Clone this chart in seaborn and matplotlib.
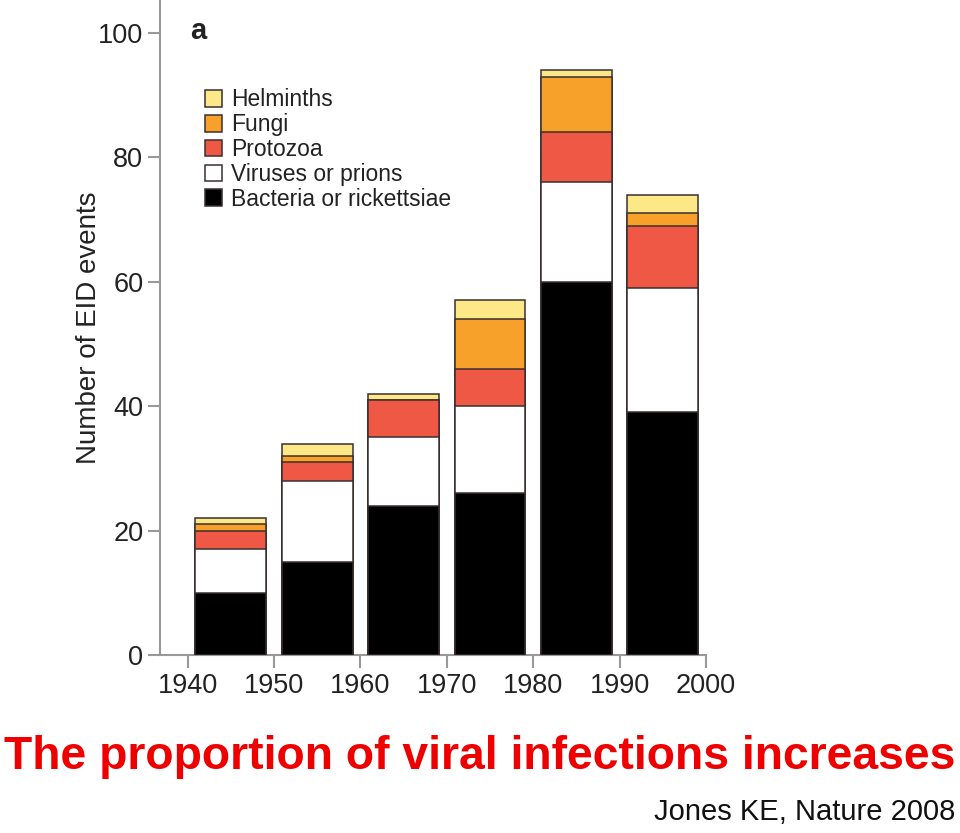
import matplotlib
matplotlib.use("Agg")
import matplotlib.pyplot as plt
import matplotlib.patches as mpatches
import seaborn as sns
import pandas as pd
import numpy as np

# ---- data ----
decade_start = [1940, 1950, 1960, 1970, 1980, 1990]
tick_years = [1940, 1950, 1960, 1970, 1980, 1990, 2000]
categories = ["Bacteria or rickettsiae", "Viruses or prions", "Protozoa", "Fungi", "Helminths"]
bacteria = [10, 15, 24, 26, 60, 39]
viruses = [7, 13, 11, 14, 16, 20]
protozoa = [3, 3, 6, 6, 8, 10]
fungi = [1, 1, 0, 8, 9, 2]
helminths = [1, 2, 1, 3, 1, 3]
colors = ["#000000", "#FFFFFF", "#EE5845", "#F8A12A", "#FCE886"]
yticks = [0, 20, 40, 60, 80, 100]

sns.set_theme(style="white")
plt.rcParams['font.family'] = ['Liberation Sans', 'DejaVu Sans']

fig = plt.figure(figsize=(9.6, 8.33), dpi=100)
ax = fig.add_axes([160/960, (833-655)/833, (706-160)/960, 655/833])

series = [bacteria, viruses, protozoa, fungi, helminths]
centers = [d + 5 for d in decade_start]
cum = np.cumsum(np.array(series), axis=0)

# draw from top layer (full stack) down so each lower layer overlays
for i in range(len(series) - 1, -1, -1):
    df = pd.DataFrame({"decade": centers, "value": cum[i]})
    sns.barplot(data=df, x="decade", y="value", native_scale=True, width=0.82,
                color=colors[i], saturation=1, edgecolor="#3a3030", linewidth=1.1,
                ax=ax, zorder=2 + (len(series) - i))

ax.set_xlim(1936.8, 2000)
ax.set_ylim(0, 105.3)
ax.set_xticks(tick_years)
ax.set_xticklabels([str(t) for t in tick_years])
ax.set_yticks(yticks)
ax.set_yticklabels([str(t) for t in yticks])
ax.set_xlabel("")
ax.set_ylabel("Number of EID events", fontsize=20, color="#222222", labelpad=-3)

for s in ["top", "right"]:
    ax.spines[s].set_visible(False)
for s in ["left", "bottom"]:
    ax.spines[s].set_color("#999999")
    ax.spines[s].set_linewidth(1.5)
ax.tick_params(axis="both", which="major", direction="out", length=9, width=1.5,
               color="#999999", labelcolor="#222222", labelsize=19.5, bottom=True, left=True)
ax.tick_params(axis="x", pad=4)
ax.tick_params(axis="y", pad=3)

ax.text(0.055, 0.953, "a", transform=ax.transAxes, fontsize=21, fontweight="bold",
        color="#222222", va="center", ha="left")

handles = [mpatches.Patch(facecolor=colors[i], edgecolor="#3a3030", linewidth=1.1, label=categories[i])
           for i in range(len(series) - 1, -1, -1)]
leg = ax.legend(handles=handles, loc="upper left", bbox_to_anchor=(0.082, 0.865),
                frameon=False, fontsize=16.5, handlelength=0.75, handleheight=0.75,
                handletextpad=0.4, labelspacing=0.08, borderaxespad=0, borderpad=0)
for t in leg.get_texts():
    t.set_color("#222222")

fig.text(0.5, (833-757)/833, "The proportion of viral infections increases",
         fontsize=33.3, fontweight="bold", color="#EE0000", ha="center", va="center")
fig.text(955/960, (833-812)/833, "Jones KE, Nature 2008", fontsize=21, color="#111111",
         ha="right", va="center")

fig.savefig("out.png", dpi=100)
